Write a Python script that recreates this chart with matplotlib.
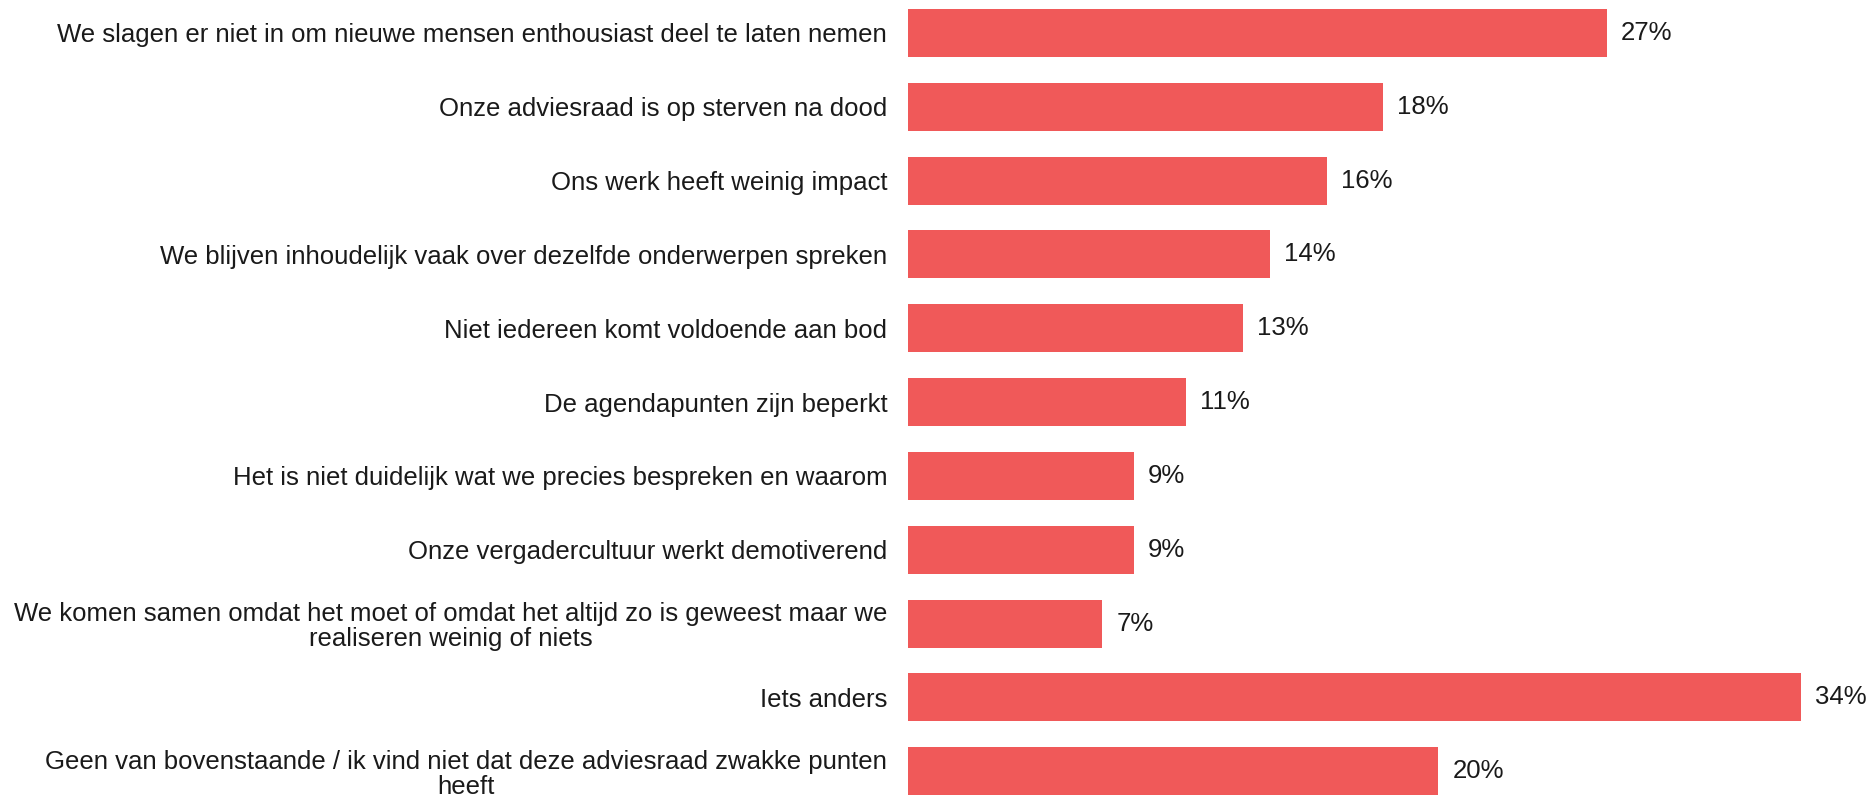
import matplotlib.pyplot as plt

plt.rcParams['font.family'] = ['Liberation Sans', 'DejaVu Sans']

categories = [
    'We slagen er niet in om nieuwe mensen enthousiast deel te laten nemen',
    'Onze adviesraad is op sterven na dood',
    'Ons werk heeft weinig impact',
    'We blijven inhoudelijk vaak over dezelfde onderwerpen spreken',
    'Niet iedereen komt voldoende aan bod',
    'De agendapunten zijn beperkt',
    'Het is niet duidelijk wat we precies bespreken en waarom',
    'Onze vergadercultuur werkt demotiverend',
    'We komen samen omdat het moet of omdat het altijd zo is geweest maar we\nrealiseren weinig of niets',
    'Iets anders',
    'Geen van bovenstaande / ik vind niet dat deze adviesraad zwakke punten\nheeft',
]
values = [26.6, 18.1, 15.95, 13.8, 12.75, 10.6, 8.6, 8.6, 7.4, 34.0, 20.2]
value_labels = ['27%', '18%', '16%', '14%', '13%', '11%', '9%', '9%', '7%', '34%', '20%']

bar_color = '#F05959'

fig = plt.figure(figsize=(18.75, 7.97), dpi=100)
ax = fig.add_axes([908 / 1875, 0, 1 - 908 / 1875, 1])

pos = list(range(len(categories)))
ax.barh(pos, values, height=0.65, color=bar_color)

for p, v, lab in zip(pos, values, value_labels):
    ax.text(v + 0.53, p, lab, va='center', ha='left', fontsize=18.5, color='#1a1a1a')

ax.set_yticks(pos)
ax.set_yticklabels(categories, fontsize=18.5, color='#1a1a1a', multialignment='center',
                   linespacing=1.05)
ax.tick_params(axis='y', length=0, pad=15)
ax.set_xticks([])
ax.set_xlim(0, (1875 - 908) / 26.26)
ax.set_ylim(10.35, -0.447)
for s in ax.spines.values():
    s.set_visible(False)

fig.savefig('out.png', dpi=100)
